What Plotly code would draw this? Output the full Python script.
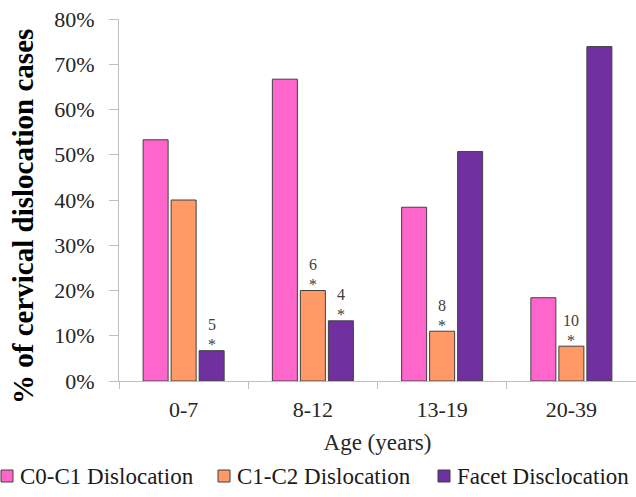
import plotly.graph_objects as go

# Age groups and share of each dislocation type (%)
age_groups = ["0-7", "8-12", "13-19", "20-39"]
c0c1_pct = [53.3, 66.7, 38.4, 18.4]
c1c2_pct = [40.0, 20.0, 11.0, 7.7]
facet_pct = [6.7, 13.3, 50.7, 73.9]

# Case counts marked as significant (*)
c1c2_n = [None, 6, 8, 10]
facet_n = [5, 4, None, None]

series_names = ["C0-C1 Dislocation", "C1-C2 Dislocation", "Facet Disclocation"]
colors = ["#FF66CC", "#FF9966", "#7030A0"]

W, H = 636, 497
ML, MR, MT, MB = 119, 0, 19, 116
PW, PH = W - ML - MR, H - MT - MB
FONT = "Liberation Serif, Times New Roman, serif"
BARGAP, GROUPGAP = 0.35, 0.107


def px_x(x):
    return (x - ML) / PW


def px_y(y):
    return (H - MB - y) / PH


fig = go.Figure()
for name, vals, col in zip(series_names, [c0c1_pct, c1c2_pct, facet_pct], colors):
    fig.add_trace(go.Bar(
        x=age_groups, y=vals, name=name,
        marker=dict(color=col, line=dict(color="#404040", width=1)),
        hoverinfo="x+y+name",
    ))

annotations = []

# Count + asterisk above the flagged bars
slot = (1 - BARGAP) * (PW / len(age_groups)) / len(series_names)
label_font = dict(family=FONT, size=16, color="#404040")
for idx, (vals, counts) in [(1, (c1c2_pct, c1c2_n)), (2, (facet_pct, facet_n))]:
    shift = (idx - 1) * slot
    for cat, v, n in zip(age_groups, vals, counts):
        if n is None:
            continue
        annotations.append(dict(
            x=cat, y=v, xref="x", yref="y", xshift=shift, yshift=6,
            text="*", showarrow=False, xanchor="center", yanchor="middle",
            font=label_font,
        ))
        annotations.append(dict(
            x=cat, y=v, xref="x", yref="y", xshift=shift, yshift=26,
            text=str(n), showarrow=False, xanchor="center", yanchor="middle",
            font=label_font,
        ))

# Legend drawn as squares and text below the axis title
legend_items = [
    (1, 18, series_names[0], colors[0]),
    (218, 235, series_names[1], colors[1]),
    (438, 455, series_names[2], colors[2]),
]
shapes = []
ly = 476
for sq_x, tx, label, col in legend_items:
    shapes.append(dict(
        type="rect", xref="paper", yref="paper",
        x0=px_x(sq_x), x1=px_x(sq_x + 12),
        y0=px_y(ly + 6), y1=px_y(ly - 6),
        fillcolor=col, line=dict(color="#404040", width=1),
    ))
    annotations.append(dict(
        xref="paper", yref="paper", x=px_x(tx), y=px_y(ly),
        xanchor="left", yanchor="middle", showarrow=False,
        text=label, font=dict(family=FONT, size=23, color="#1a1a1a"),
    ))

# Y-axis title
annotations.append(dict(
    xref="paper", yref="paper", x=px_x(23), y=px_y(217),
    xanchor="center", yanchor="middle", showarrow=False, textangle=-90,
    text="<b>% of cervical dislocation cases</b>",
    font=dict(family=FONT, size=29, color="#000000"),
))

fig.update_layout(
    width=W, height=H,
    margin=dict(l=ML, r=MR, t=MT, b=MB, pad=0),
    paper_bgcolor="white", plot_bgcolor="white",
    barmode="group", bargap=BARGAP, bargroupgap=GROUPGAP,
    showlegend=False,
    shapes=shapes, annotations=annotations,
    font=dict(family=FONT, color="#262626"),
)
fig.update_xaxes(
    showline=True, linecolor="#BFBFBF", linewidth=1,
    ticks="outside", tickson="boundaries", ticklen=7, tickcolor="#BFBFBF",
    tickfont=dict(family=FONT, size=22, color="#262626"),
    ticklabelstandoff=9,
    title=dict(text="Age (years)", font=dict(family=FONT, size=23, color="#262626"), standoff=12),
    showgrid=False, zeroline=False,
)
fig.update_yaxes(
    range=[0, 80], dtick=10, ticksuffix="%",
    showline=True, linecolor="#BFBFBF", linewidth=1,
    ticks="outside", ticklen=9, tickcolor="#BFBFBF",
    tickfont=dict(family=FONT, size=22, color="#262626"),
    ticklabelstandoff=10,
    showgrid=False, zeroline=False,
)

fig.write_html("out.html")
